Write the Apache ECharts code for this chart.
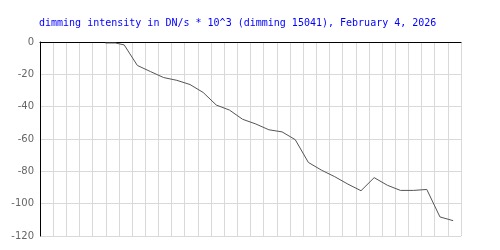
<!DOCTYPE html>
<html><head><meta charset="utf-8">
<script src="https://cdn.jsdelivr.net/npm/echarts@6/dist/echarts.min.js"></script>
<style>html,body{margin:0;padding:0;background:#fff}#c{width:500px;height:250px}</style>
</head><body><div id="c"></div>
<script>
// x positions in grid units (0..32)
const xPos = [4.97, 5.73, 6.4, 7.4, 8.4, 9.4, 10.4, 11.4, 12.4, 13.4, 14.4, 15.4, 16.4, 17.4, 18.4, 19.4, 20.4, 21.4, 22.4, 23.4, 24.4, 25.4, 26.4, 27.4, 28.4, 29.4, 30.4, 31.4];
const dimming = [-0.6, -0.6, -1.8, -14.5, -18.3, -22, -23.7, -26.3, -31.2, -39, -42.1, -47.8, -50.7, -54.3, -55.6, -60.4, -74.5, -79.3, -83.3, -87.9, -92, -83.9, -88.6, -91.8, -91.8, -91.2, -108.2, -110.5];
const yTicks = [0, -20, -40, -60, -80, -100, -120];
const titleText = 'dimming intensity in DN/s * 10^3 (dimming 15041), February 4, 2026';

const chart = echarts.init(document.getElementById('c'), null, {renderer: 'canvas'});
chart.setOption({
  animation: false,
  backgroundColor: '#fff',
  title: {
    text: titleText, left: 39, top: 18, padding: 0,
    textStyle: {color: '#0000ff', fontFamily: 'DejaVu Sans Mono', fontSize: 10, fontWeight: 'normal'}
  },
  grid: {left: 40, right: 39, top: 42, bottom: 14, containLabel: false},
  xAxis: {
    type: 'value', min: 0, max: 32, interval: 1,
    axisLine: {show: true, onZero: true, lineStyle: {color: '#000', width: 1}},
    axisTick: {show: false}, axisLabel: {show: false},
    splitLine: {show: true, lineStyle: {color: '#d9d9d9', width: 1}}
  },
  yAxis: {
    type: 'value', min: yTicks[yTicks.length - 1], max: yTicks[0], interval: 20,
    axisLine: {show: true, lineStyle: {color: '#000', width: 1}},
    axisTick: {show: false},
    axisLabel: {color: '#666', fontFamily: 'DejaVu Sans', fontSize: 10, margin: 6},
    splitLine: {show: true, lineStyle: {color: '#d9d9d9', width: 1}}
  },
  series: [{
    type: 'line', showSymbol: false, symbol: 'none',
    data: xPos.map((x, i) => [x, dimming[i]]),
    lineStyle: {color: '#555', width: 1},
    z: 3
  }]
});
</script></body></html>
